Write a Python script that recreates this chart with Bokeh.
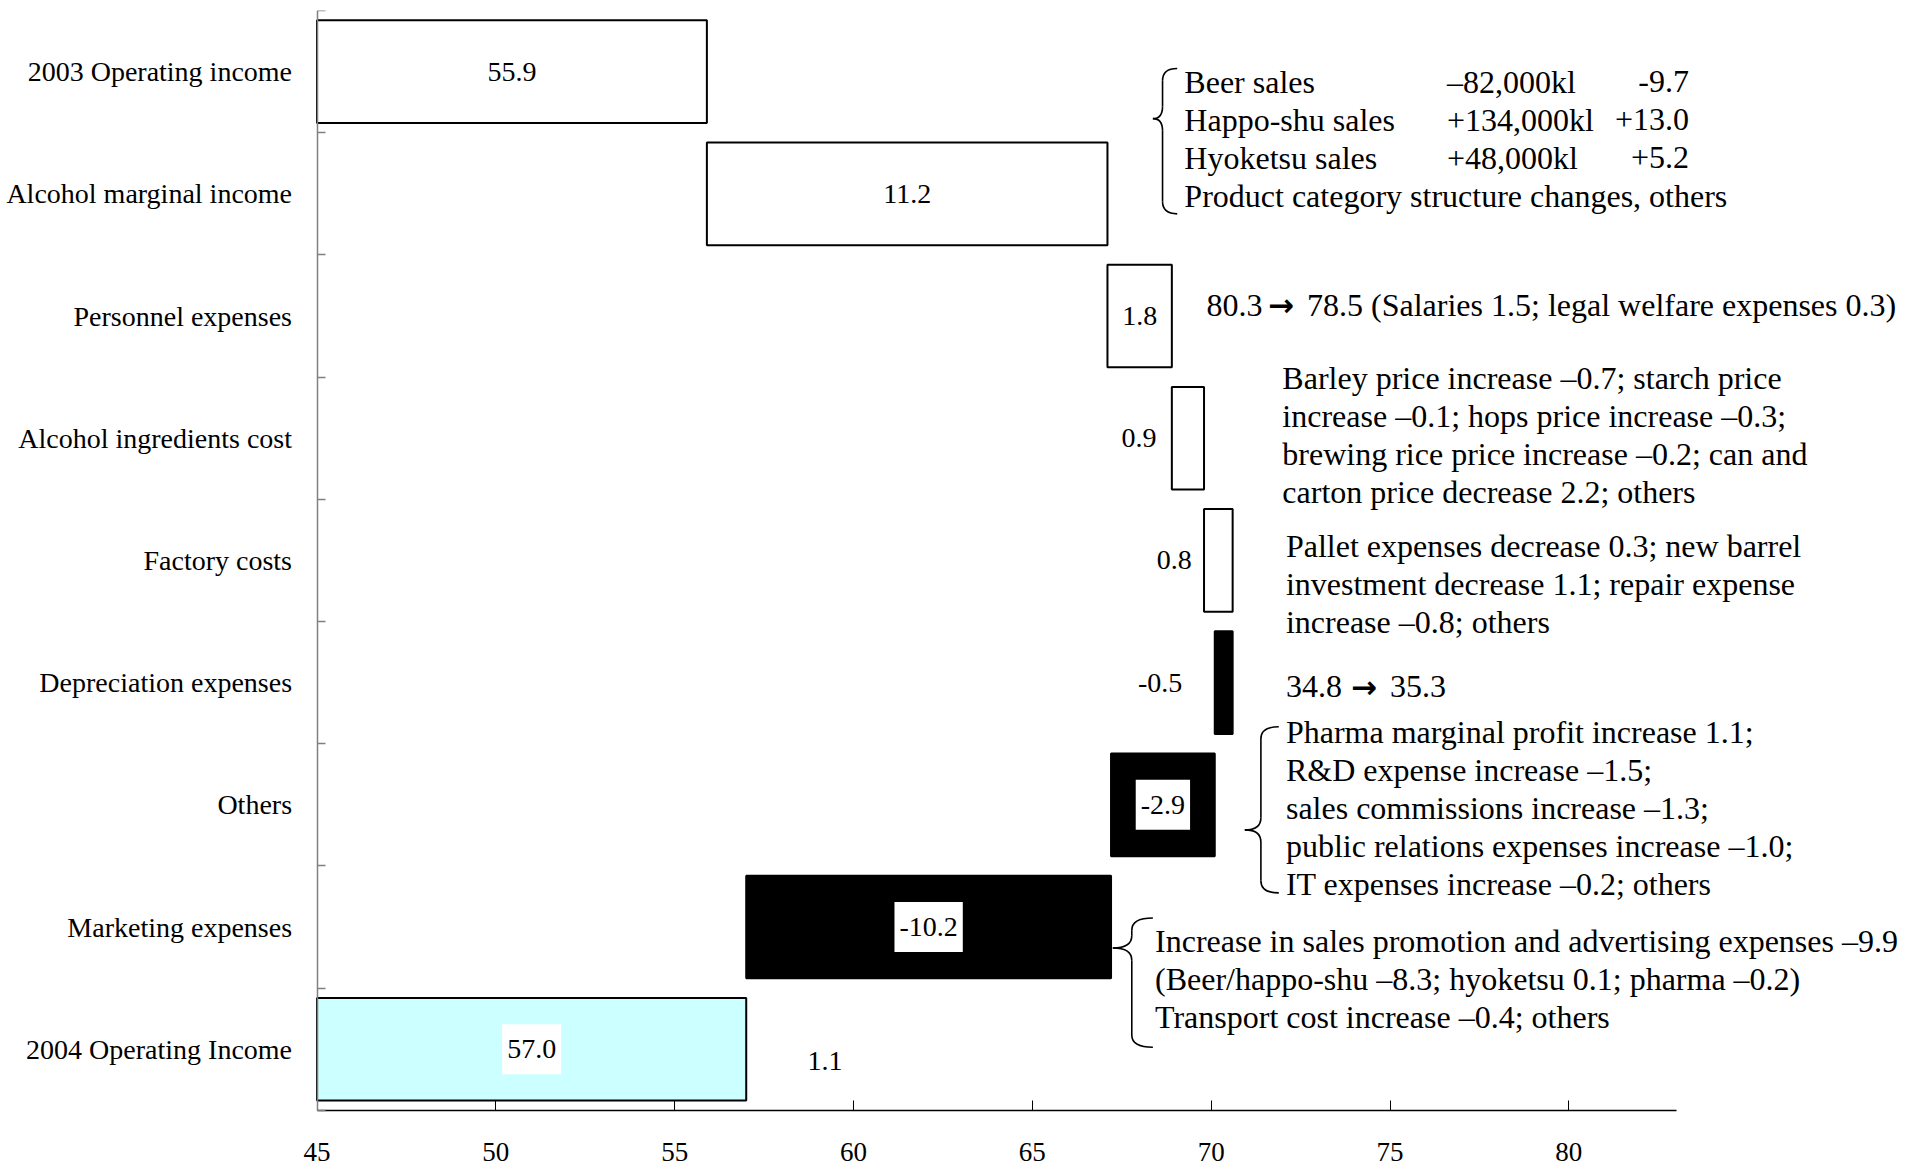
from bokeh.plotting import figure
from bokeh.models import Range1d, FixedTicker
from bokeh.core.properties import value
from bokeh.embed import file_html
from bokeh.resources import INLINE

# ---- data -------------------------------------------------------------
categories = [
    "2003 Operating income",
    "Alcohol marginal income",
    "Personnel expenses",
    "Alcohol ingredients cost",
    "Factory costs",
    "Depreciation expenses",
    "Others",
    "Marketing expenses",
    "2004 Operating Income",
]
start_total = 55.9
changes = [11.2, 1.8, 0.9, 0.8, -0.5, -2.9, -10.2]
end_total = 57.0
axis_origin = 45
x_ticks = [45, 50, 55, 60, 65, 70, 75, 80]
stray_value = 1.1  # unattached figure shown beside the 2004 bar

# ---- layout / style ---------------------------------------------------
SERIF = value("Liberation Serif")
X_MIN = 36.15         # frame spans the full page; the y axis sits at x = 45
X_MAX = 89.86
AXIS_END = 83
Y_BOTTOM = 9.017      # the x axis sits at y = 8.5
BAR_H = 0.84
LINE = 0.311          # line spacing of the notes, in row units

# waterfall geometry
lefts, rights, fills = [], [], []
lefts.append(axis_origin); rights.append(start_total); fills.append("white")
running = start_total
for c in changes:
    lo, hi = sorted((running, running + c))
    lefts.append(lo); rights.append(hi)
    fills.append("white" if c > 0 else "black")
    running += c
lefts.append(axis_origin); rights.append(end_total); fills.append("#CCFFFF")
rows = list(range(len(categories)))

p = figure(width=1921, height=1173,
           x_range=Range1d(X_MIN, X_MAX), y_range=Range1d(Y_BOTTOM, -0.5),
           output_backend="svg", toolbar_location=None,
           min_border_left=0, min_border_right=0,
           min_border_top=10, min_border_bottom=0)
p.grid.visible = False
p.outline_line_color = None
p.background_fill_color = "white"

p.hbar(y=rows, left=lefts, right=rights, height=BAR_H,
       fill_color=fills, line_color="black", line_width=2)

# ---- value labels ----------------------------------------------------
values = [start_total] + changes + [end_total]
label_txt = [f"{v:.1f}" for v in values]
# horizontal placement: None -> centred on the bar, number -> offset from bar start
label_shift = [None, None, None, -0.92, -0.83, -1.53, None, None, None]
boxed = [False, False, False, False, False, False, True, True, True]

plain_x, plain_y, plain_t = [], [], []
box_x, box_y, box_t = [], [], []
for i in rows:
    if label_shift[i] is None:
        lx = (lefts[i] + rights[i]) / 2
    else:
        lx = lefts[i] + label_shift[i]
    if boxed[i]:
        box_x.append(lx); box_y.append(i); box_t.append(label_txt[i])
    else:
        plain_x.append(lx); plain_y.append(i); plain_t.append(label_txt[i])

p.text(x=plain_x, y=plain_y, text=plain_t, text_font=SERIF,
       text_font_size="28px", text_align="center", text_baseline="middle",
       text_color="black")
p.text(x=box_x, y=box_y, text=box_t, text_font=SERIF,
       text_font_size="28px", text_align="center", text_baseline="middle",
       text_color="black", background_fill_color="white",
       padding=dict(left=5, right=5, top=16, bottom=16))
p.text(x=[59.2], y=[8.1], text=[f"{stray_value:.1f}"], text_font=SERIF,
       text_font_size="28px", text_align="center", text_baseline="middle",
       text_color="black")

# ---- notes -----------------------------------------------------------
def note(x, y0, lines, align="left"):
    p.text(x=[x] * len(lines), y=[y0 + k * LINE for k in range(len(lines))],
           text=lines, text_font=SERIF, text_font_size="32px",
           text_align=align, text_baseline="middle", text_color="black")

def arrow(x, y):
    p.text(x=[x], y=[y], text=["\u2192"], text_font=value("DejaVu Sans"),
           text_font_style="bold", text_font_size="31px",
           text_align="center", text_baseline="middle", text_color="black")

note(69.25, 0.084, ["Beer sales", "Happo-shu sales", "Hyoketsu sales",
                    "Product category structure changes, others"])
note(76.59, 0.084, ["\u201382,000kl", "+134,000kl", "+48,000kl"])
note(83.36, 0.084, ["-9.7", "+13.0", "+5.2"], align="right")

note(69.87, 1.91, ["80.3"])
arrow(71.95, 1.91)
note(72.68, 1.91, ["78.5 (Salaries 1.5; legal welfare expenses 0.3)"])

note(71.99, 2.505, ["Barley price increase \u20130.7; starch price",
                    "increase \u20130.1; hops price increase \u20130.3;",
                    "brewing rice price increase \u20130.2; can and",
                    "carton price decrease 2.2; others"])
note(72.09, 3.880, ["Pallet expenses decrease 0.3; new barrel",
                    "investment decrease 1.1; repair expense",
                    "increase \u20130.8; others"])

note(72.09, 5.035, ["34.8"])
arrow(74.27, 5.035)
note(75.0, 5.035, ["35.3"])

note(72.09, 5.407, ["Pharma marginal profit increase 1.1;",
                    "R&D expense increase \u20131.5;",
                    "sales commissions increase \u20131.3;",
                    "public relations expenses increase \u20131.0;",
                    "IT expenses increase \u20130.2; others"])
note(68.43, 7.115, ["Increase in sales promotion and advertising expenses \u20139.9",
                    "(Beer/happo-shu \u20138.3; hyoketsu 0.1; pharma \u20130.2)",
                    "Transport cost increase \u20130.4; others"])

# ---- braces ----------------------------------------------------------
def brace(x_tip, x_mid, x_end, y_top, y_tip, y_bot, r=0.1):
    kw = dict(line_color="black", line_width=1.6)
    p.quadratic(x0=[x_end], y0=[y_top], x1=[x_mid], y1=[y_top + r],
                cx=[x_mid], cy=[y_top], **kw)
    p.segment(x0=[x_mid], y0=[y_top + r], x1=[x_mid], y1=[y_tip - r], **kw)
    p.quadratic(x0=[x_mid], y0=[y_tip - r], x1=[x_tip], y1=[y_tip],
                cx=[x_mid], cy=[y_tip], **kw)
    p.quadratic(x0=[x_tip], y0=[y_tip], x1=[x_mid], y1=[y_tip + r],
                cx=[x_mid], cy=[y_tip], **kw)
    p.segment(x0=[x_mid], y0=[y_tip + r], x1=[x_mid], y1=[y_bot - r], **kw)
    p.quadratic(x0=[x_mid], y0=[y_bot - r], x1=[x_end], y1=[y_bot],
                cx=[x_mid], cy=[y_bot], **kw)

brace(68.37, 68.64, 69.05, -0.025, 0.385, 1.164)
brace(70.94, 71.39, 71.89, 5.361, 6.205, 6.721)
brace(67.25, 67.78, 68.37, 6.926, 7.172, 7.984)

# ---- axes ------------------------------------------------------------
xa = p.xaxis[0]
xa.fixed_location = 8.5
xa.ticker = FixedTicker(ticks=x_ticks, minor_ticks=[])
xa.bounds = (axis_origin, AXIS_END)
xa.axis_line_color = "black"
xa.axis_line_width = 1.5
xa.major_tick_in = 10
xa.major_tick_out = 0
xa.major_tick_line_color = "black"
xa.minor_tick_line_color = None
xa.major_label_standoff = 33
xa.major_label_text_font = "Liberation Serif"
xa.major_label_text_font_size = "27px"
xa.major_label_text_color = "black"

ya = p.yaxis[0]
ya.fixed_location = axis_origin
ya.ticker = FixedTicker(ticks=rows, minor_ticks=[k - 0.5 for k in range(len(rows) + 1)])
ya.major_label_overrides = {i: c for i, c in enumerate(categories)}
ya.bounds = (-0.5, 8.5)
ya.axis_line_color = "#808080"
ya.axis_line_width = 1.5
ya.major_tick_line_color = None
ya.major_tick_in = 0
ya.major_tick_out = 0
ya.minor_tick_line_color = "#808080"
ya.minor_tick_line_width = 1.5
ya.minor_tick_in = 8
ya.minor_tick_out = 0
ya.major_label_standoff = 25
ya.major_label_text_font = "Liberation Serif"
ya.major_label_text_font_size = "28px"
ya.major_label_text_color = "black"

open("out.html", "w").write(file_html(p, INLINE))
